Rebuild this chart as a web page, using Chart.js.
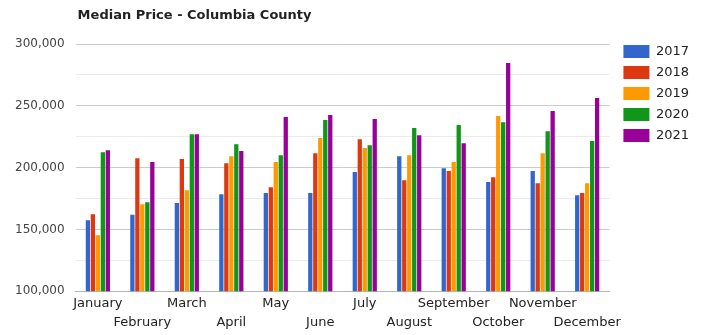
<!DOCTYPE html>
<html>
<head>
<meta charset="utf-8">
<script src="https://cdn.jsdelivr.net/npm/chart.js@4"></script>
<style>
  html, body { margin: 0; padding: 0; background: #fff; }
  #wrap { width: 702px; height: 335px; }
</style>
</head>
<body>
<div id="wrap"><canvas id="barChart" width="702" height="335"></canvas></div>
<script>
const months = ["January", "February", "March", "April", "May", "June",
  "July", "August", "September", "October", "November", "December"];
const years = ["2017", "2018", "2019", "2020", "2021"];
const colors = ["#3366cc", "#dc3912", "#ff9900", "#109618", "#990099"];

const price2017 = [157500, 162000, 171500, 178500, 179400, 179400, 196400, 209300, 199600, 188300, 197200, 177700];
const price2018 = [162300, 207700, 206900, 203600, 184200, 211700, 223000, 189900, 197200, 192300, 187400, 179400];
const price2019 = [145300, 170400, 181800, 209300, 204500, 223900, 215800, 210000, 204500, 241700, 211700, 187400];
const price2020 = [212500, 172000, 227000, 219000, 210000, 238500, 218200, 232000, 234400, 236800, 229500, 221500];
const price2021 = [214000, 204500, 227000, 213400, 240900, 242500, 239300, 226300, 219800, 284600, 245800, 256300];

const series = [price2017, price2018, price2019, price2020, price2021];

// title drawn at the left edge of the plot area
const titlePlugin = {
  id: "leftTitle",
  afterDraw(chart) {
    const ctx = chart.ctx;
    ctx.save();
    ctx.font = "bold 13px 'DejaVu Sans'";
    ctx.fillStyle = "#222";
    ctx.textBaseline = "middle";
    ctx.fillText("Median Price - Columbia County", chart.chartArea.left + 2, 16);
    ctx.restore();
  }
};

// empty spacer axes: push the plot down and away from the legend
const spacer = (size) => ({
  display: true,
  grid: { display: false, drawTicks: false },
  border: { display: false },
  ticks: { display: false },
  afterFit: (s) => {
    if (s.isHorizontal()) s.height = size;
    else s.width = size;
  },
});

var ctx = document.getElementById("barChart").getContext("2d");
var barChart = new Chart(ctx, {
  type: "bar",
  data: {
    labels: months,
    datasets: years.map((y, i) => ({
      label: y,
      data: series[i],
      backgroundColor: colors[i],
      borderWidth: 0,
      categoryPercentage: 0.56,
      barPercentage: 0.86,
    })),
  },
  options: {
    responsive: false,
    animation: false,
    layout: { padding: { top: 37, left: 4, right: 3, bottom: 0 } },
    plugins: {
      legend: {
        position: "right",
        align: "start",
        labels: {
          boxWidth: 26,
          boxHeight: 13,
          padding: 8,
          color: "#222",
          font: { family: "DejaVu Sans", size: 13 },
        },
      },
      title: { display: false },
      tooltip: { enabled: false },
    },
    scales: {
      x: {
        grid: { display: false, drawTicks: false },
        border: { color: "#b5b5b5" },
        ticks: {
          autoSkip: false,
          maxRotation: 0,
          color: "#222",
          padding: 3,
          font: { family: "DejaVu Sans", size: 13, lineHeight: 1.45 },
          callback: function (value, index) {
            const name = months[index];
            return index % 2 ? ["", name] : name;
          },
        },
      },
      xTop: Object.assign(spacer(7), { position: "top", type: "category" }),
      y: {
        min: 100000,
        max: 300000,
        border: { display: false },
        grid: {
          color: (c) => (c.tick && c.tick.value % 50000 === 0 ? "#cccccc" : "#ebebeb"),
          drawTicks: false,
        },
        ticks: {
          stepSize: 25000,
          padding: 11,
          color: "#444",
          font: { family: "DejaVu Sans", size: 12 },
          callback: (v) => (v % 50000 === 0 ? v.toLocaleString("en-US") : ""),
        },
      },
      yRight: Object.assign(spacer(6), { position: "right", type: "linear" }),
    },
  },
  plugins: [titlePlugin],
});
</script>
</body>
</html>
